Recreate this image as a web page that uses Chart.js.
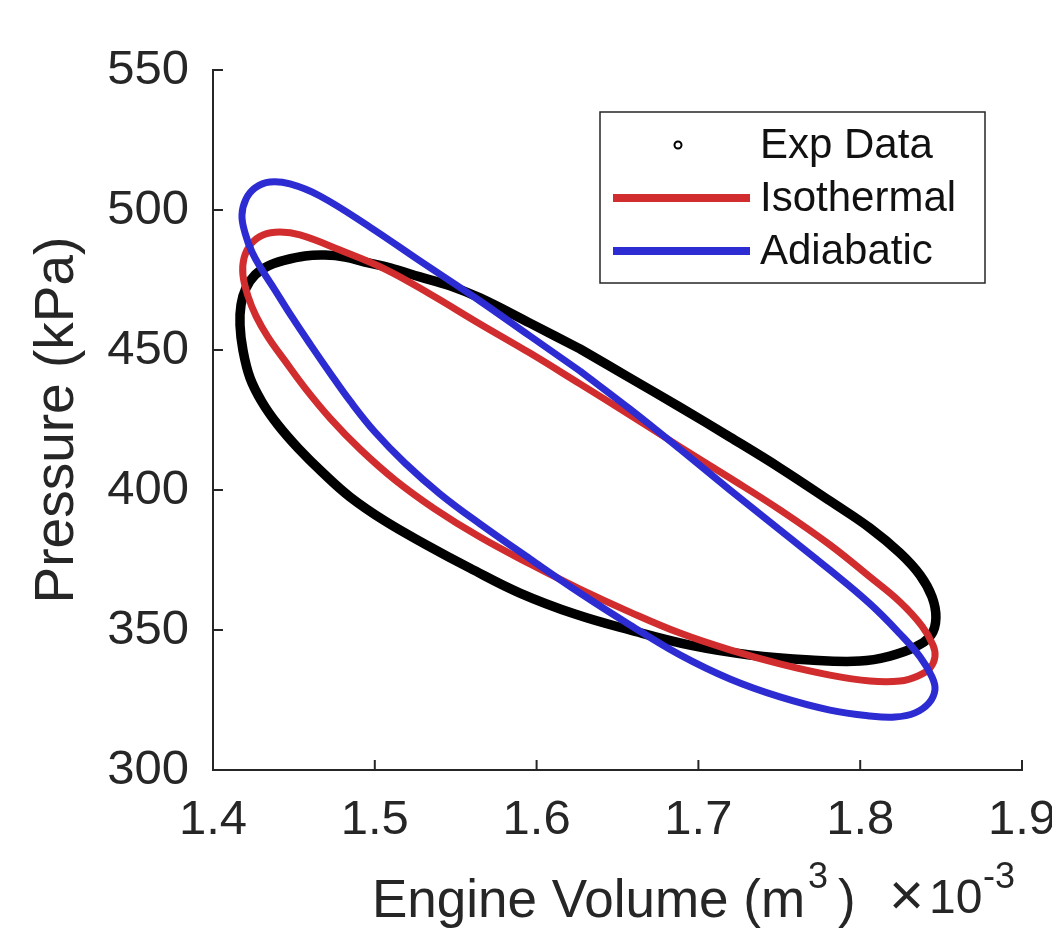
<!DOCTYPE html>
<html>
<head>
<meta charset="utf-8">
<script src="https://cdn.jsdelivr.net/npm/chart.js@4.4.0/dist/chart.umd.min.js"></script>
<style>
  body { margin: 0; background: #fff; }
</style>
</head>
<body>
<canvas id="pvChart" width="1052" height="931"></canvas>
<script>
// volume in 1e-3 m^3, pressure in kPa, each loop closed
const expVolume = [1.6268, 1.6577, 1.6886, 1.7195, 1.7504, 1.7813, 1.8061, 1.8246, 1.8370, 1.8444,
  1.8468, 1.8438, 1.8339, 1.8184, 1.7999, 1.7690, 1.7319, 1.6948, 1.6577, 1.6237,
  1.5897, 1.5588, 1.5310, 1.5063, 1.4847, 1.4674, 1.4525, 1.4402, 1.4303, 1.4229,
  1.4185, 1.4167, 1.4173, 1.4204, 1.4260, 1.4340, 1.4445, 1.4569, 1.4692, 1.4816,
  1.4939, 1.5094, 1.5279, 1.5465, 1.5650, 1.5959, 1.6268];
const expPressure = [450.4, 440.0, 429.6, 418.9, 407.9, 396.1, 386.4, 377.5, 369.6, 361.8,
  354.3, 348.2, 343.9, 340.7, 338.9, 339.3, 341.1, 344.6, 350.0, 355.7,
  363.2, 372.1, 380.7, 388.9, 397.5, 406.4, 415.0, 423.2, 431.4, 440.0,
  450.0, 458.9, 466.1, 472.1, 476.8, 480.0, 482.1, 483.6, 483.9, 483.2,
  481.4, 479.3, 476.1, 472.9, 468.6, 459.6, 450.4];

const isoVolume = [1.6268, 1.6577, 1.6886, 1.7195, 1.7504, 1.7813, 1.8061, 1.8246, 1.8382, 1.8450,
  1.8462, 1.8431, 1.8357, 1.8246, 1.8061, 1.7813, 1.7504, 1.7195, 1.6886, 1.6577,
  1.6268, 1.5959, 1.5650, 1.5372, 1.5125, 1.4909, 1.4723, 1.4569, 1.4445, 1.4340,
  1.4266, 1.4216, 1.4185, 1.4192, 1.4235, 1.4309, 1.4414, 1.4538, 1.4785, 1.5063,
  1.5341, 1.5650, 1.5959, 1.6268];
const isoPressure = [437.9, 426.8, 415.4, 404.3, 392.9, 380.4, 368.9, 360.0, 351.4, 344.6,
  340.4, 336.4, 333.6, 331.8, 331.8, 333.9, 337.9, 342.9, 348.9, 356.4,
  364.6, 373.6, 383.2, 393.2, 403.6, 414.6, 425.7, 436.4, 446.1, 454.6,
  462.1, 469.3, 476.8, 482.9, 487.9, 491.1, 492.1, 491.1, 485.7, 478.9,
  470.0, 459.3, 448.9, 437.9];

const adiVolume = [1.6268, 1.6577, 1.6886, 1.7195, 1.7504, 1.7813, 1.8061, 1.8246, 1.8370, 1.8444,
  1.8462, 1.8425, 1.8339, 1.8215, 1.8061, 1.7813, 1.7504, 1.7195, 1.6886, 1.6577,
  1.6268, 1.5959, 1.5650, 1.5403, 1.5187, 1.5001, 1.4847, 1.4723, 1.4600, 1.4488,
  1.4383, 1.4303, 1.4241, 1.4198, 1.4179, 1.4204, 1.4260, 1.4352, 1.4476, 1.4661,
  1.4970, 1.5279, 1.5650, 1.5959, 1.6268];
const adiPressure = [442.5, 428.9, 414.6, 400.0, 385.7, 371.4, 359.3, 348.6, 340.4, 333.2,
  328.6, 323.9, 320.4, 318.9, 319.3, 321.4, 326.1, 332.5, 341.1, 351.8,
  363.2, 375.4, 387.9, 398.6, 409.6, 420.7, 431.8, 441.8, 452.1, 461.8,
  471.4, 478.6, 485.0, 491.8, 498.2, 503.9, 507.9, 510.0, 509.3, 505.0,
  493.9, 481.8, 467.5, 455.0, 442.5];

const seriesNames = ["Exp Data", "Isothermal", "Adiabatic"];
const xTickLabels = ["1.4", "1.5", "1.6", "1.7", "1.8", "1.9"];
const yTickLabels = ["300", "350", "400", "450", "500", "550"];

const FONT = "'Liberation Sans', Arial, Helvetica, sans-serif";
const AXIS = "#262626";
Chart.defaults.font.family = FONT;
Chart.defaults.color = AXIS;

function toPoints(xs, ys) {
  return xs.map((v, i) => ({ x: v, y: ys[i] }));
}

// MATLAB style inward ticks, x label with superscript and the x10^-3 multiplier
const axisExtras = {
  id: "axisExtras",
  afterDraw(chart) {
    const { ctx, chartArea: area } = chart;
    const xs = chart.scales.x;
    const ys = chart.scales.y;
    ctx.save();
    ctx.strokeStyle = AXIS;
    ctx.lineWidth = 2;
    xs.ticks.forEach((t) => {
      const px = xs.getPixelForValue(t.value);
      ctx.beginPath();
      ctx.moveTo(px, area.bottom);
      ctx.lineTo(px, area.bottom - 10);
      ctx.stroke();
    });
    ys.ticks.forEach((t) => {
      const py = ys.getPixelForValue(t.value);
      ctx.beginPath();
      ctx.moveTo(area.left, py);
      ctx.lineTo(area.left + 10, py);
      ctx.stroke();
    });

    ctx.fillStyle = AXIS;
    ctx.textBaseline = "alphabetic";
    let x = 372;
    ctx.font = "53px " + FONT;
    ctx.fillText("Engine Volume (m", x, 917);
    x += ctx.measureText("Engine Volume (m").width + 3;
    ctx.font = "36px " + FONT;
    ctx.fillText("3", x, 888);
    x += ctx.measureText("3").width + 10;
    ctx.font = "53px " + FONT;
    ctx.fillText(")", x, 917);

    ctx.font = "60px " + FONT;
    ctx.fillText("\u00d7", 889, 915);
    ctx.font = "48px " + FONT;
    ctx.fillText("10", 929, 913);
    ctx.font = "36px " + FONT;
    ctx.fillText("-3", 983, 888);
    ctx.restore();
  },
};

// boxed legend, top right
const legendBox = {
  id: "legendBox",
  afterDraw(chart) {
    const ctx = chart.ctx;
    ctx.save();
    ctx.fillStyle = "#fff";
    ctx.fillRect(600, 112, 385, 171);
    ctx.strokeStyle = AXIS;
    ctx.lineWidth = 1.5;
    ctx.strokeRect(600, 112, 385, 171);
    ctx.font = "42px " + FONT;
    ctx.textBaseline = "middle";
    chart.data.datasets.forEach((ds, i) => {
      const cy = 145 + i * 53;
      if (ds.label === "Exp Data") {
        ctx.beginPath();
        ctx.arc(678, cy, 3.5, 0, Math.PI * 2);
        ctx.lineWidth = 2;
        ctx.strokeStyle = "#000";
        ctx.stroke();
      } else {
        ctx.beginPath();
        ctx.moveTo(613, cy);
        ctx.lineTo(750, cy);
        ctx.lineWidth = 8;
        ctx.strokeStyle = ds.borderColor;
        ctx.stroke();
      }
      ctx.fillStyle = "#111";
      ctx.fillText(ds.label, 760, cy + 1);
    });
    ctx.restore();
  },
};

const ctx = document.getElementById("pvChart");

const pvChart = new Chart(ctx, {
  type: "scatter",
  data: {
    datasets: [
      {
        label: seriesNames[0],
        data: toPoints(expVolume, expPressure),
        showLine: true,
        borderColor: "#000",
        borderWidth: 9.5,
        tension: 0.4,
        pointRadius: 0,
        borderJoinStyle: "round",
        borderCapStyle: "round",
        order: 3,
      },
      {
        label: seriesNames[1],
        data: toPoints(isoVolume, isoPressure),
        showLine: true,
        borderColor: "#d12d2f",
        borderWidth: 7,
        tension: 0.4,
        pointRadius: 0,
        borderJoinStyle: "round",
        order: 2,
      },
      {
        label: seriesNames[2],
        data: toPoints(adiVolume, adiPressure),
        showLine: true,
        borderColor: "#2c2cd2",
        borderWidth: 7,
        tension: 0.4,
        pointRadius: 0,
        borderJoinStyle: "round",
        order: 1,
      },
    ],
  },
  options: {
    responsive: false,
    animation: false,
    layout: { padding: { left: 0, top: 70, right: 30, bottom: 0 } },
    plugins: {
      legend: { display: false },
      tooltip: { enabled: false },
    },
    scales: {
      x: {
        type: "linear",
        min: 1.4,
        max: 1.9,
        ticks: {
          stepSize: 0.1,
          padding: 21,
          maxRotation: 0,
          font: { size: 49 },
          color: AXIS,
          callback: (v) => xTickLabels[Math.round((v - 1.4) * 10)],
        },
        grid: { display: false, drawTicks: false },
        border: { display: true, color: AXIS, width: 2 },
        title: { display: false },
        afterFit: (scale) => {
          scale.height = 161;
          scale.paddingLeft = 0;
          scale.paddingRight = 0;
        },
      },
      y: {
        type: "linear",
        min: 300,
        max: 550,
        ticks: {
          stepSize: 50,
          padding: 24,
          font: { size: 49 },
          color: AXIS,
          callback: (v) => yTickLabels[Math.round((v - 300) / 50)],
        },
        grid: { display: false, drawTicks: false },
        border: { display: true, color: AXIS, width: 2 },
        title: {
          display: true,
          text: "Pressure (kPa)",
          font: { size: 55 },
          color: AXIS,
          padding: { top: 25, bottom: 0 },
        },
        afterFit: (scale) => {
          scale.width = 213;
          scale.paddingTop = 0;
          scale.paddingBottom = 0;
        },
      },
    },
  },
  plugins: [axisExtras, legendBox],
});
</script>
</body>
</html>
